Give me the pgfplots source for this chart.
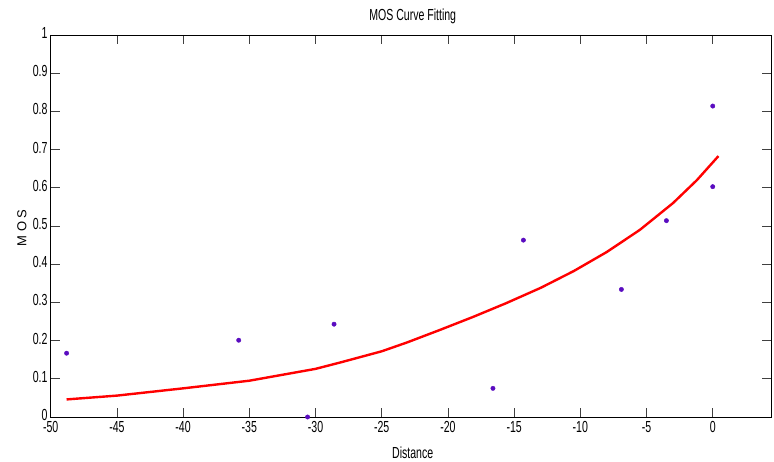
\documentclass[border=0pt]{standalone}
\usepackage{fontspec}
\setmainfont{Liberation Sans}[FakeStretch=0.66]
\newfontfamily\labelfont{Liberation Sans}
\usepackage{pgfplots}
\pgfplotsset{compat=1.18}
\definecolor{fitred}{HTML}{FF0000}
\definecolor{dotpurple}{HTML}{5A0CC0}

\begin{document}
\begin{tikzpicture}
  \useasboundingbox (-50.7pt,-44pt) rectangle (723.3pt,417pt);
  \begin{axis}[
    at={(0,0)}, anchor=south west,
    scale only axis,
    width=720.3pt,
    height=382pt,
    xmin=-50, xmax=4.4,
    ymin=0, ymax=1,
    xtick={-50,-45,-40,-35,-30,-25,-20,-15,-10,-5,0},
    ytick={0,0.1,0.2,0.3,0.4,0.5,0.6,0.7,0.8,0.9,1},
    yticklabels={0,0.1,0.2,0.3,0.4,0.5,0.6,0.7,0.8,0.9,1},
    /pgf/number format/assume math mode=true,
    tick label style={font=\fontsize{16}{18}\selectfont, inner sep=0.5pt, text depth=0pt},
    xticklabel style={yshift=-3.5pt},
    yticklabel style={xshift=-2.5pt, yshift=2pt},
    tick align=inside,
    major tick length=9pt,
    tick style={black!75, line width=0.8pt},
    axis line style={black, line width=0.9pt},
    clip=false
  ]
    \addplot[fitred, line width=2.4pt] coordinates {
      (-48.8,0.046) (-45,0.056) (-40,0.075) (-35,0.095) (-30,0.126)
      (-28.1,0.143) (-25,0.172) (-23.1,0.195) (-20.6,0.228) (-18.1,0.262)
      (-15.6,0.298) (-13.0,0.338) (-10.5,0.382) (-8.0,0.432) (-5.5,0.490)
      (-3.0,0.560) (-1.2,0.620) (0.43,0.683)
    };
    \addplot[only marks, mark=*, mark size=2.2pt, dotpurple] coordinates {
      (-48.8,0.167) (-35.8,0.201) (-30.6,0.0) (-28.6,0.243) (-16.6,0.075)
      (-14.3,0.463) (-6.9,0.334) (-3.5,0.514) (0,0.603) (0,0.814)
    };
  \end{axis}
  \node[font=\fontsize{16}{18}\selectfont] at (362pt,400.5pt) {MOS Curve Fitting};
  \node[font=\fontsize{16}{18}\selectfont] at (362pt,-36pt) {Distance};
  \node[font=\labelfont\fontsize{13}{15}\selectfont, rotate=90] at (-28.7pt,189pt) {M O S};
\end{tikzpicture}
\end{document}
